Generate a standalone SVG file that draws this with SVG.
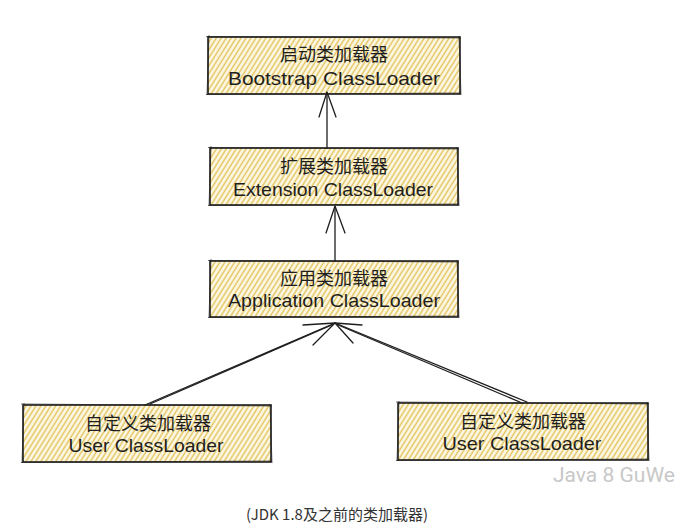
<svg xmlns="http://www.w3.org/2000/svg" width="676" height="530" viewBox="0 0 676 530">
<style>
.box{fill:url(#hatch);stroke:#1e1e1e;stroke-width:1.6}
.sk{fill:none;stroke:#1e1e1e;stroke-width:0.8;opacity:0.8}
.cn{font-family:"Noto Sans CJK SC","Noto Sans",sans-serif;font-size:18px;fill:#1e1e1e;text-anchor:middle;dominant-baseline:central}
.en{font-family:"Liberation Sans","DejaVu Sans",sans-serif;font-size:19px;fill:#1e1e1e;text-anchor:middle;dominant-baseline:central}
.conn line,.conn path{fill:none;stroke:#1e1e1e;stroke-width:1.3;stroke-linecap:round;stroke-linejoin:round}
.cap{font-family:"Noto Sans CJK SC","Noto Sans",sans-serif;font-size:15px;fill:#333;text-anchor:middle;dominant-baseline:central}
.wm{font-family:Roboto,"Liberation Sans",sans-serif;font-size:21px;fill:#c8c8c8;dominant-baseline:central}
</style>
<defs>
<pattern id="hatch" patternUnits="userSpaceOnUse" width="4.2" height="12" patternTransform="rotate(32)">
<rect width="4.2" height="12" fill="#fdf8e6"/>
<line x1="2" y1="0" x2="2" y2="12" stroke="#e2c35a" stroke-width="1.4"/>
</pattern>
</defs>
<rect width="676" height="530" fill="#ffffff"/>
<g id="bootstrap">
<rect class="box" x="208" y="37" width="252" height="57"/>
<path class="sk" d="M206 36.5 L461 38 M209 35 L207 95 M206 94.5 L461 93 M459 36 L461 95"/>
<text class="cn" x="334" y="53">启动类加载器</text>
<text class="en" x="334" y="78" textLength="212" lengthAdjust="spacingAndGlyphs">Bootstrap ClassLoader</text>
</g>
<g id="extension">
<rect class="box" x="210" y="148" width="248" height="57"/>
<path class="sk" d="M208 147.5 L459 149 M211 146 L209 206 M208 205.5 L459 204 M457 147 L459 206"/>
<text class="cn" x="334" y="165">扩展类加载器</text>
<text class="en" x="333" y="189" textLength="200" lengthAdjust="spacingAndGlyphs">Extension ClassLoader</text>
</g>
<g id="application">
<rect class="box" x="210" y="261" width="248" height="56"/>
<path class="sk" d="M208 260.5 L459 262 M211 259 L209 318 M208 317.5 L459 316 M457 260 L459 318"/>
<text class="cn" x="334" y="277">应用类加载器</text>
<text class="en" x="334" y="300" textLength="212" lengthAdjust="spacingAndGlyphs">Application ClassLoader</text>
</g>
<g id="user1">
<rect class="box" x="23" y="405" width="248" height="57"/>
<path class="sk" d="M21 404 L272 406 M24 403 L22 463 M21 462.5 L272 461 M270 404 L272 463"/>
<text class="cn" x="148" y="422">自定义类加载器</text>
<text class="en" x="146" y="445" textLength="155" lengthAdjust="spacingAndGlyphs">User ClassLoader</text>
</g>
<g id="user2">
<rect class="box" x="398" y="403" width="250" height="57"/>
<path class="sk" d="M396 402 L649 404 M399 401 L397 461 M396 460.5 L649 459 M647 402 L649 461"/>
<text class="cn" x="523" y="420">自定义类加载器</text>
<text class="en" x="522" y="443" textLength="159" lengthAdjust="spacingAndGlyphs">User ClassLoader</text>
</g>
<g id="connectors" class="conn">
<line x1="327" y1="148" x2="327" y2="93"/>
<path d="M319 117 L327 92 L336 117"/>
<line x1="335" y1="261" x2="335" y2="207"/>
<path d="M326 233 L335 206 L345 233"/>
<line x1="145" y1="405" x2="335" y2="323"/>
<line x1="150" y1="404" x2="333" y2="324.5"/>
<path d="M303 325 L335 323 L313 345"/>
<line x1="527" y1="402" x2="335" y2="323"/>
<line x1="522" y1="403" x2="337" y2="324.5"/>
<path d="M362 325 L335 323 L353 343"/>
</g>
<text class="wm" x="553" y="475">Java 8 GuWe</text>
<text class="cap" x="337" y="513">(JDK 1.8及之前的类加载器)</text>
</svg>
